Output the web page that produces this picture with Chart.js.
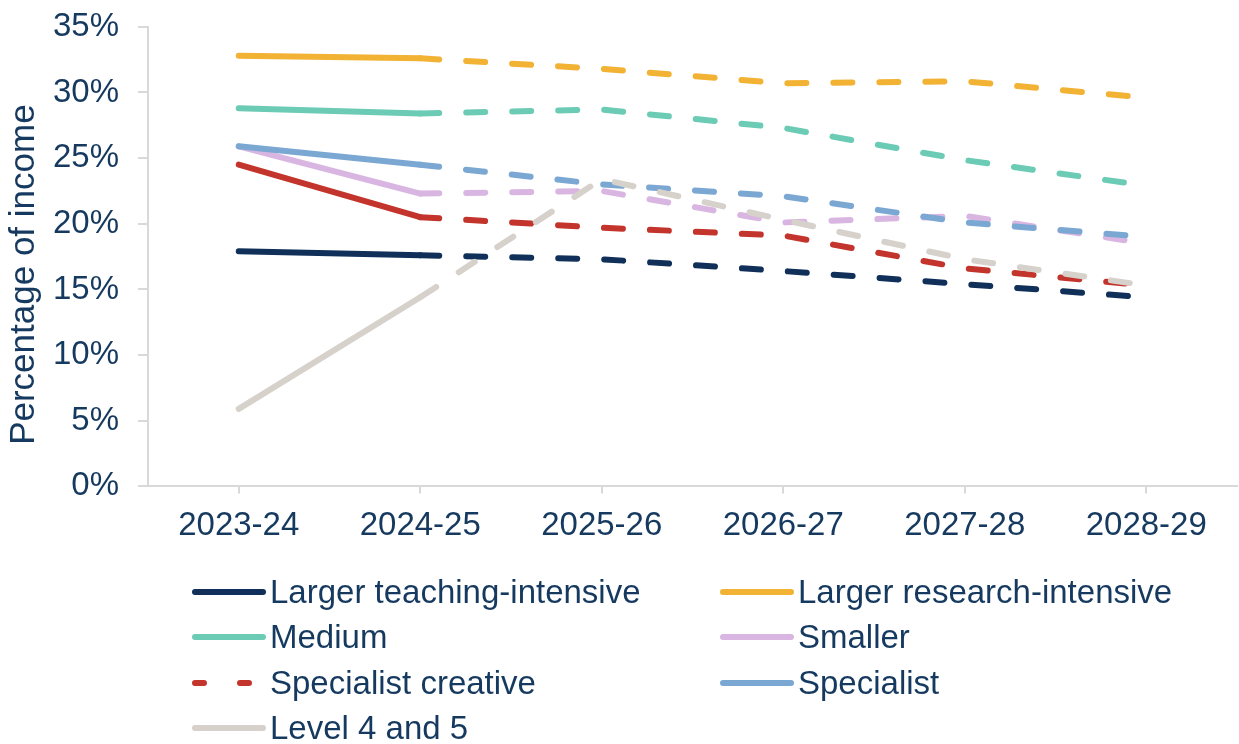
<!DOCTYPE html>
<html>
<head>
<meta charset="utf-8">
<script src="https://cdn.jsdelivr.net/npm/chart.js@4/dist/chart.umd.min.js"></script>
<style>
body { margin: 0; background: #fff; width: 1239px; height: 744px; overflow: hidden; font-family: 'Liberation Sans', Arial, sans-serif; }
#wrap { position: absolute; left: 0; top: -12px; width: 1239px; height: 571px; }
#legend { position: absolute; left: 0; top: 0; width: 1239px; height: 744px; pointer-events: none; }
.item { position: absolute; height: 46px; display: flex; align-items: center; font-size: 33px; color: #163a5f; white-space: nowrap; }
.item svg { margin-right: 1px; }
</style>
</head>
<body>
<div id="wrap"><canvas id="incomeChart"></canvas></div>
<div id="legend"></div>
<script>
const years = ['2023-24', '2024-25', '2025-26', '2026-27', '2027-28', '2028-29'];

const largerTeaching = [17.9, 17.6, 17.3, 16.4, 15.4, 14.4];
const largerResearch = [32.8, 32.6, 31.8, 30.7, 30.85, 29.6];
const medium = [28.8, 28.4, 28.7, 27.3, 24.85, 22.9];
const smaller = [25.9, 22.3, 22.5, 20.1, 20.6, 18.5];
const specialistCreative = [24.5, 20.5, 19.7, 19.1, 16.6, 15.3];
const specialist = [25.9, 24.5, 23.0, 22.1, 20.1, 19.0];
const level45 = [5.9, 14.4, 23.4, 20.3, 17.3, 15.3];

const seriesNames = ['Larger teaching-intensive', 'Larger research-intensive', 'Medium', 'Smaller',
    'Specialist creative', 'Specialist', 'Level 4 and 5'];
const seriesData = [largerTeaching, largerResearch, medium, smaller, specialistCreative, specialist, level45];
const seriesColors = ['#10305a', '#f2b233', '#6ccbb5', '#d9b6e2', '#c3352c', '#7ba7d3', '#d6d1ca'];
const legendDashed = [false, false, false, false, true, false, false];

const yTitle = 'Percentage of income';
const textColor = '#163a5f';
const axisColor = '#d9d9d9';
const font = { family: "'Liberation Sans', Arial, sans-serif", size: 33 };

// solid for actual year, dashed from 2024-25 onwards
const forecastDash = [19, 27];

const datasets = seriesNames.map((name, i) => ({
    label: name,
    data: seriesData[i],
    borderColor: seriesColors[i],
    borderWidth: 6,
    borderCapStyle: 'round',
    borderJoinStyle: 'round',
    pointRadius: 0,
    tension: 0,
    order: seriesNames.length - i,
    segment: {
        borderDash: c => c.p0DataIndex >= 1 ? forecastDash : []
    }
}));

// axis title sits a little below the middle of the axis in the original
const yTitlePlugin = {
    id: 'yTitle',
    afterDraw(chart) {
        const c = chart.ctx, area = chart.chartArea;
        c.save();
        c.translate(24, (area.top + area.bottom) / 2 + 18);
        c.rotate(-Math.PI / 2);
        c.font = '35px ' + font.family;
        c.fillStyle = textColor;
        c.textAlign = 'center';
        c.textBaseline = 'middle';
        c.fillText(yTitle, 0, 0);
        c.restore();
    }
};

new Chart(document.getElementById('incomeChart'), {
    type: 'line',
    data: { labels: years, datasets: datasets },
    plugins: [yTitlePlugin],
    options: {
        responsive: true,
        maintainAspectRatio: false,
        animation: false,
        layout: { padding: { left: 4, right: 2, top: 6, bottom: 0 } },
        plugins: { legend: { display: false }, tooltip: { enabled: false } },
        scales: {
            x: {
                offset: true,
                grid: { drawOnChartArea: false, drawTicks: true, tickLength: 7, color: axisColor, lineWidth: 2 },
                border: { color: axisColor, width: 2 },
                ticks: { color: textColor, font: font, padding: 13, maxRotation: 0 }
            },
            y: {
                min: 0,
                max: 35,
                afterFit: s => { s.width = 144; },
                ticks: { stepSize: 5, color: textColor, font: font, padding: 19, callback: v => v + '%' },
                grid: { drawOnChartArea: false, drawTicks: true, tickLength: 10, color: axisColor, lineWidth: 2 },
                border: { color: axisColor, width: 2 }
            }
        }
    }
});

// legend in two columns, read row by row
const legend = document.getElementById('legend');
seriesNames.forEach((name, i) => {
    const col = i % 2, row = Math.floor(i / 2);
    const item = document.createElement('div');
    item.className = 'item';
    item.style.left = (col ? 717 : 189) + 'px';
    item.style.top = (569 + row * 45.3) + 'px';
    const dash = legendDashed[i] ? ' stroke-dasharray="9 36"' : '';
    item.innerHTML = '<svg width="80" height="10"><line x1="6" y1="5" x2="74" y2="5" stroke="' + seriesColors[i] +
        '" stroke-width="6" stroke-linecap="round"' + dash + '/></svg><span>' + name + '</span>';
    legend.appendChild(item);
});
</script>
</body>
</html>
